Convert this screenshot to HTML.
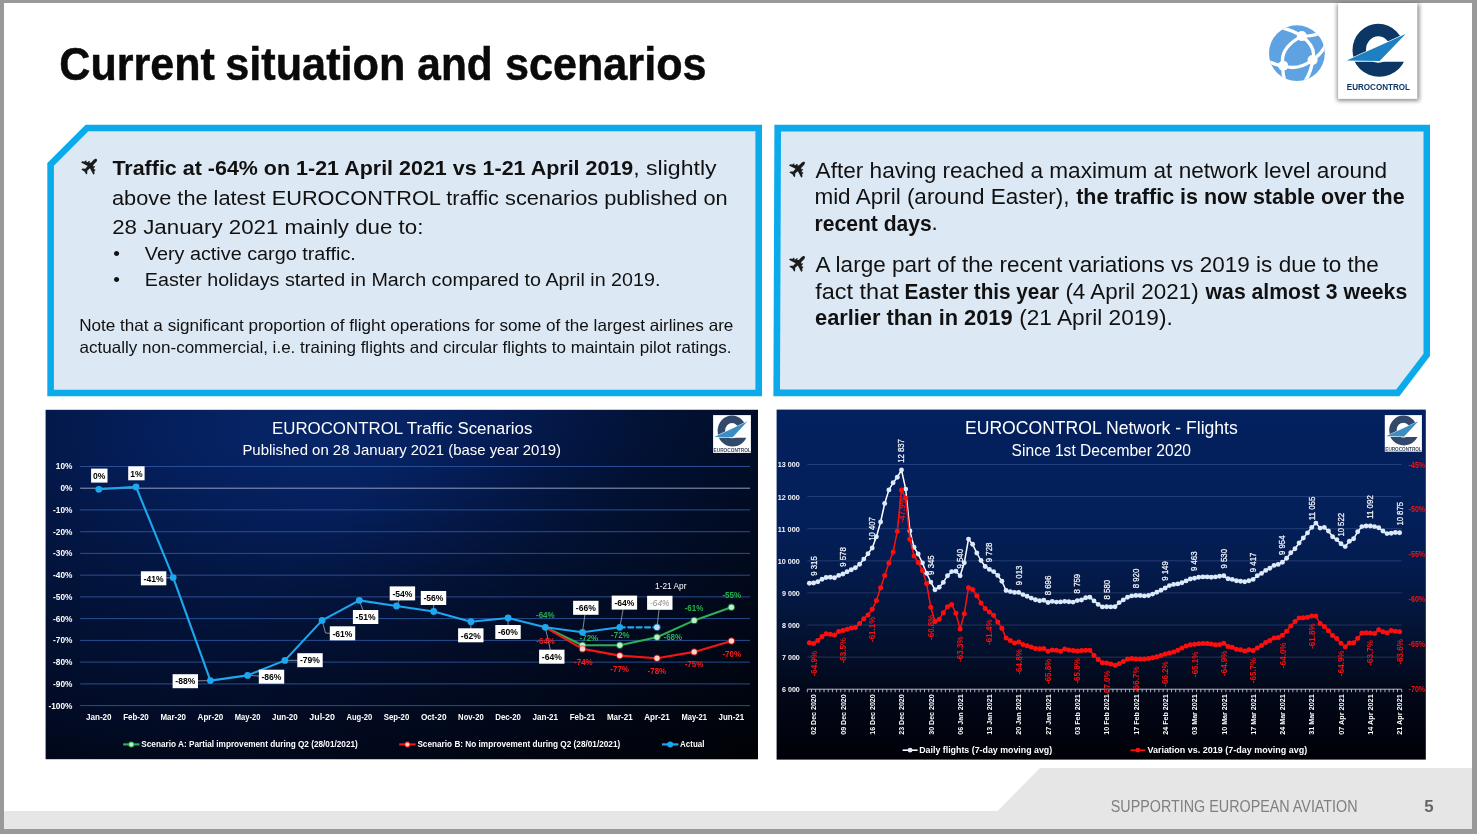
<!DOCTYPE html>
<html lang="en"><head><meta charset="utf-8"><title>Current situation and scenarios</title>
<style>
html,body{margin:0;padding:0;background:#999;}
body{width:1477px;height:834px;overflow:hidden;font-family:"Liberation Sans", sans-serif;}
svg{display:block;font-family:"Liberation Sans", sans-serif;}
text{white-space:pre;}
</style></head><body>
<svg width="1477" height="834" viewBox="0 0 1477 834">
<defs>
<filter id="sh" x="-20%" y="-20%" width="140%" height="140%"><feGaussianBlur stdDeviation="2.2"/></filter>
<filter id="bl" x="-5%" y="-5%" width="110%" height="110%"><feGaussianBlur stdDeviation="0.45"/></filter>
<radialGradient id="g1" gradientUnits="userSpaceOnUse" cx="320" cy="430" r="820" gradientTransform="translate(320 430) scale(1 0.478) translate(-320 -430)"><stop offset="0" stop-color="#072669"/><stop offset="0.2" stop-color="#051f5c"/><stop offset="0.4" stop-color="#031642"/><stop offset="0.6" stop-color="#021032"/><stop offset="0.8" stop-color="#020b24"/><stop offset="1" stop-color="#01040e"/></radialGradient>
<linearGradient id="g1b" gradientUnits="userSpaceOnUse" x1="430" y1="420" x2="758" y2="760"><stop offset="0" stop-color="#000" stop-opacity="0"/><stop offset="1" stop-color="#000" stop-opacity="0.6"/></linearGradient>
<linearGradient id="g2" x1="0" y1="0" x2="0" y2="1"><stop offset="0" stop-color="#03205f"/><stop offset="0.3" stop-color="#03205a"/><stop offset="0.43" stop-color="#031c50"/><stop offset="0.615" stop-color="#031437"/><stop offset="0.71" stop-color="#030e28"/><stop offset="0.80" stop-color="#020819"/><stop offset="0.89" stop-color="#010512"/><stop offset="1" stop-color="#000107"/></linearGradient>
</defs>
<rect width="1477" height="834" fill="#999"/>
<rect x="4" y="3" width="1468" height="826" fill="#fff"/>
<polygon points="4,811 997.5,811 1040,768 1472,768 1472,829 4,829" fill="#e6e6e6"/>
<text x="1110.8" y="812.0" font-size="15.8" fill="#7f7f7f" textLength="246.8" lengthAdjust="spacingAndGlyphs">SUPPORTING EUROPEAN AVIATION</text>
<text x="1424.2" y="812.1" font-size="16.8" font-weight="bold" fill="#666">5</text>
<text x="59.3" y="79.5" font-size="46.8" font-weight="bold" fill="#0a0a0a" textLength="155.5" lengthAdjust="spacingAndGlyphs" stroke="#0a0a0a" stroke-width="0.5">Current</text>
<text x="225.2" y="79.5" font-size="46.8" font-weight="bold" fill="#0a0a0a" textLength="180.2" lengthAdjust="spacingAndGlyphs" stroke="#0a0a0a" stroke-width="0.5">situation</text>
<text x="417.3" y="79.5" font-size="46.8" font-weight="bold" fill="#0a0a0a" textLength="75.4" lengthAdjust="spacingAndGlyphs" stroke="#0a0a0a" stroke-width="0.5">and</text>
<text x="505.0" y="79.5" font-size="46.8" font-weight="bold" fill="#0a0a0a" textLength="201.5" lengthAdjust="spacingAndGlyphs" stroke="#0a0a0a" stroke-width="0.5">scenarios</text>
<g>
<clipPath id="gc"><circle cx="1296.9" cy="53.2" r="27.9"/></clipPath>
<circle cx="1296.9" cy="53.2" r="27.9" fill="#5fa2e1"/>
<g clip-path="url(#gc)" fill="none" stroke="#fff" stroke-width="3.3" stroke-linecap="round">
<path d="M1281.6,27.6 Q1293.3,30.7 1301.8,36.1 Q1310.4,36.6 1321.2,33.0"/>
<path d="M1301.8,36.1 Q1278.7,48.3 1283.2,65.8 Q1282.0,72.6 1285.2,81.5"/>
<path d="M1301.8,36.1 Q1317.1,47.6 1312.6,60.0 Q1311.7,70.8 1305.0,81.5"/>
<path d="M1268.1,61.3 Q1277.1,65.5 1283.2,65.8 Q1297.6,71.0 1312.6,60.0 Q1321.2,54.6 1326.5,43.8"/>
</g>
<circle cx="1301.8" cy="36.1" r="5.0" fill="#fff"/>
<circle cx="1312.6" cy="60.0" r="5.0" fill="#fff"/>
<circle cx="1283.2" cy="65.8" r="5.0" fill="#fff"/>
</g>
<rect x="1337.1" y="4" width="82.2" height="96.9" fill="#000" opacity="0.45" filter="url(#sh)"/>
<rect x="1338.1" y="3" width="79.2" height="95.9" fill="#fff"/>
<g transform="translate(1352.5 23.7) scale(51.6 53.1)">
<clipPath id="ec1a"><polygon points="-0.3,-0.2 1.3,-0.2 1.3,0.0608 -0.3,0.7613"/></clipPath>
<clipPath id="ec1b"><rect x="-0.3" y="0.716" width="1.6" height="0.5"/></clipPath>
<path clip-path="url(#ec1a)" fill="#0c3664" fill-rule="evenodd" d="M0,0.5 A0.5,0.5 0 1 1 1,0.5 A0.5,0.5 0 1 1 0,0.5 Z M0.262,0.487 A0.238,0.25 0 1 0 0.738,0.487 A0.238,0.25 0 1 0 0.262,0.487 Z"/>
<path clip-path="url(#ec1b)" fill="#0c3664" fill-rule="evenodd" d="M-0.01,0.5 A0.53,0.5 0 1 1 1.05,0.5 A0.53,0.5 0 1 1 -0.01,0.5 Z M0.262,0.487 A0.238,0.25 0 1 0 0.738,0.487 A0.238,0.25 0 1 0 0.262,0.487 Z"/>
<polygon fill="#1e80c2" points="-0.112,0.692 1.03,0.192 0.526,0.702"/>
</g>
<text x="1346.8" y="89.8" font-size="8.7" font-weight="bold" fill="#0c3664" textLength="63.2" lengthAdjust="spacingAndGlyphs">EUROCONTROL</text>
<polygon points="85.6,124.7 762,124.7 762,396.2 47.3,396.2 47.3,163" fill="#0babeb"/>
<polygon points="88.3,131.3 755.4,131.3 755.4,389.7 53.9,389.7 53.9,165.7" fill="#dde8f5"/>
<polygon points="774.4,124.7 1430,124.7 1430,356 1399.4,396.2 773.4,396.2" fill="#0babeb"/>
<polygon points="781,131.4 1423.5,131.4 1423.5,353.8 1396.2,389.6 780,389.6" fill="#dde8f5"/>
<g transform="translate(90.5 165.4) rotate(45) scale(1.0)" fill="#1c1c1c">
<path d="M0,-8.8 C1.1,-8.8 1.65,-7.4 1.65,-5.6 L1.65,-2.2 L8.7,2.9 L8.7,4.6 L1.65,2.4 L1.4,6.0 L3.4,7.9 L3.4,9.4 L0,8.5 L-3.4,9.4 L-3.4,7.9 L-1.4,6.0 L-1.65,2.4 L-8.7,4.6 L-8.7,2.9 L-1.65,-2.2 L-1.65,-5.6 C-1.65,-7.4 -1.1,-8.8 0,-8.8 Z"/>
<path d="M3.0,-2.3h1.3v2.4h-1.3z M5.6,-0.4h1.2v2.2h-1.2z M-4.3,-2.3h1.3v2.4h-1.3z M-6.8,-0.4h1.2v2.2h-1.2z"/>
</g>
<g transform="translate(798.4 168.3) rotate(45) scale(1.0)" fill="#1c1c1c">
<path d="M0,-8.8 C1.1,-8.8 1.65,-7.4 1.65,-5.6 L1.65,-2.2 L8.7,2.9 L8.7,4.6 L1.65,2.4 L1.4,6.0 L3.4,7.9 L3.4,9.4 L0,8.5 L-3.4,9.4 L-3.4,7.9 L-1.4,6.0 L-1.65,2.4 L-8.7,4.6 L-8.7,2.9 L-1.65,-2.2 L-1.65,-5.6 C-1.65,-7.4 -1.1,-8.8 0,-8.8 Z"/>
<path d="M3.0,-2.3h1.3v2.4h-1.3z M5.6,-0.4h1.2v2.2h-1.2z M-4.3,-2.3h1.3v2.4h-1.3z M-6.8,-0.4h1.2v2.2h-1.2z"/>
</g>
<g transform="translate(798.4 262.6) rotate(45) scale(1.0)" fill="#1c1c1c">
<path d="M0,-8.8 C1.1,-8.8 1.65,-7.4 1.65,-5.6 L1.65,-2.2 L8.7,2.9 L8.7,4.6 L1.65,2.4 L1.4,6.0 L3.4,7.9 L3.4,9.4 L0,8.5 L-3.4,9.4 L-3.4,7.9 L-1.4,6.0 L-1.65,2.4 L-8.7,4.6 L-8.7,2.9 L-1.65,-2.2 L-1.65,-5.6 C-1.65,-7.4 -1.1,-8.8 0,-8.8 Z"/>
<path d="M3.0,-2.3h1.3v2.4h-1.3z M5.6,-0.4h1.2v2.2h-1.2z M-4.3,-2.3h1.3v2.4h-1.3z M-6.8,-0.4h1.2v2.2h-1.2z"/>
</g>
<text x="112.4" y="174.6" font-size="20.92" font-weight="bold" fill="#111" textLength="520.9" lengthAdjust="spacingAndGlyphs">Traffic at -64% on 1-21 April 2021 vs 1-21 April 2019</text>
<text x="633.2" y="174.6" font-size="20.92" fill="#111" textLength="83.4" lengthAdjust="spacingAndGlyphs">, slightly</text>
<text x="112.0" y="204.8" font-size="20.92" fill="#111" textLength="615.6" lengthAdjust="spacingAndGlyphs">above the latest EUROCONTROL traffic scenarios published on</text>
<text x="112.2" y="233.9" font-size="20.92" fill="#111" textLength="311.2" lengthAdjust="spacingAndGlyphs">28 January 2021 mainly due to:</text>
<text x="113.2" y="259.7" font-size="19" fill="#111">•</text>
<text x="144.8" y="259.7" font-size="19.03" fill="#111" textLength="211.0" lengthAdjust="spacingAndGlyphs">Very active cargo traffic.</text>
<text x="113.2" y="286.1" font-size="19" fill="#111">•</text>
<text x="144.8" y="286.1" font-size="19.03" fill="#111" textLength="515.6" lengthAdjust="spacingAndGlyphs">Easter holidays started in March compared to April in 2019.</text>
<text x="79.2" y="330.8" font-size="16.72" fill="#111" textLength="654.2" lengthAdjust="spacingAndGlyphs">Note that a significant proportion of flight operations for some of the largest airlines are</text>
<text x="79.6" y="352.5" font-size="16.72" fill="#111" textLength="652.0" lengthAdjust="spacingAndGlyphs">actually non-commercial, i.e. training flights and circular flights to maintain pilot ratings.</text>
<text x="815.6" y="177.6" font-size="22.2" fill="#111" textLength="571.6" lengthAdjust="spacingAndGlyphs">After having reached a maximum at network level around</text>
<text x="814.4" y="203.9" font-size="22.2" fill="#111" textLength="255.0" lengthAdjust="spacingAndGlyphs">mid April (around Easter),</text>
<text x="1076.2" y="203.8" font-size="22.2" font-weight="bold" fill="#111" textLength="328.4" lengthAdjust="spacingAndGlyphs">the traffic is now stable over the</text>
<text x="814.6" y="230.6" font-size="22.2" font-weight="bold" fill="#111" textLength="117.2" lengthAdjust="spacingAndGlyphs">recent days</text>
<text x="931.4" y="230.2" font-size="22.5" fill="#111">.</text>
<text x="815.6" y="272.2" font-size="22.2" fill="#111" textLength="563.2" lengthAdjust="spacingAndGlyphs">A large part of the recent variations vs 2019 is due to the</text>
<text x="815.2" y="298.8" font-size="22.2" fill="#111" textLength="83.6" lengthAdjust="spacingAndGlyphs">fact that</text>
<text x="904.6" y="298.7" font-size="22.2" font-weight="bold" fill="#111" textLength="154.4" lengthAdjust="spacingAndGlyphs">Easter this year</text>
<text x="1065.4" y="298.7" font-size="22.2" fill="#111" textLength="133.2" lengthAdjust="spacingAndGlyphs">(4 April 2021)</text>
<text x="1205.6" y="298.7" font-size="22.2" font-weight="bold" fill="#111" textLength="201.6" lengthAdjust="spacingAndGlyphs">was almost 3 weeks</text>
<text x="815.0" y="324.8" font-size="22.2" font-weight="bold" fill="#111" textLength="197.6" lengthAdjust="spacingAndGlyphs">earlier than in 2019</text>
<text x="1019.2" y="324.7" font-size="22.2" fill="#111" textLength="153.6" lengthAdjust="spacingAndGlyphs">(21 April 2019).</text>
<g id="chart1">
<rect x="45.6" y="409.8" width="712.4" height="349.4" fill="url(#g1)"/>
<rect x="45.6" y="409.8" width="712.4" height="349.4" fill="url(#g1b)"/>
<g filter="url(#bl)">
<text x="272.0" y="434.0" font-size="16.86" fill="#fff" textLength="260.4" lengthAdjust="spacingAndGlyphs">EUROCONTROL Traffic Scenarios</text>
<text x="242.4" y="455.4" font-size="14.92" fill="#fff" textLength="318.6" lengthAdjust="spacingAndGlyphs">Published on 28 January 2021 (base year 2019)</text>
<line x1="80.2" x2="750.0" y1="466.5" y2="466.5" stroke="#2c549c" stroke-width="0.9"/>
<text x="72.4" y="469.4" font-size="8.3" font-weight="bold" fill="#fff" text-anchor="end">10%</text>
<line x1="80.2" x2="750.0" y1="488.2" y2="488.2" stroke="#8f9bbd" stroke-width="1.0"/>
<text x="72.4" y="491.1" font-size="8.3" font-weight="bold" fill="#fff" text-anchor="end">0%</text>
<line x1="80.2" x2="750.0" y1="509.9" y2="509.9" stroke="#2c549c" stroke-width="0.9"/>
<text x="72.4" y="512.8" font-size="8.3" font-weight="bold" fill="#fff" text-anchor="end">-10%</text>
<line x1="80.2" x2="750.0" y1="531.7" y2="531.7" stroke="#2c549c" stroke-width="0.9"/>
<text x="72.4" y="534.6" font-size="8.3" font-weight="bold" fill="#fff" text-anchor="end">-20%</text>
<line x1="80.2" x2="750.0" y1="553.4" y2="553.4" stroke="#2c549c" stroke-width="0.9"/>
<text x="72.4" y="556.3" font-size="8.3" font-weight="bold" fill="#fff" text-anchor="end">-30%</text>
<line x1="80.2" x2="750.0" y1="575.2" y2="575.2" stroke="#2c549c" stroke-width="0.9"/>
<text x="72.4" y="578.1" font-size="8.3" font-weight="bold" fill="#fff" text-anchor="end">-40%</text>
<line x1="80.2" x2="750.0" y1="596.9" y2="596.9" stroke="#2c549c" stroke-width="0.9"/>
<text x="72.4" y="599.8" font-size="8.3" font-weight="bold" fill="#fff" text-anchor="end">-50%</text>
<line x1="80.2" x2="750.0" y1="618.6" y2="618.6" stroke="#2c549c" stroke-width="0.9"/>
<text x="72.4" y="621.5" font-size="8.3" font-weight="bold" fill="#fff" text-anchor="end">-60%</text>
<line x1="80.2" x2="750.0" y1="640.4" y2="640.4" stroke="#2c549c" stroke-width="0.9"/>
<text x="72.4" y="643.3" font-size="8.3" font-weight="bold" fill="#fff" text-anchor="end">-70%</text>
<line x1="80.2" x2="750.0" y1="662.1" y2="662.1" stroke="#2c549c" stroke-width="0.9"/>
<text x="72.4" y="665.0" font-size="8.3" font-weight="bold" fill="#fff" text-anchor="end">-80%</text>
<line x1="80.2" x2="750.0" y1="683.9" y2="683.9" stroke="#2c549c" stroke-width="0.9"/>
<text x="72.4" y="686.8" font-size="8.3" font-weight="bold" fill="#fff" text-anchor="end">-90%</text>
<line x1="80.2" x2="750.0" y1="705.6" y2="705.6" stroke="#2c549c" stroke-width="0.9"/>
<text x="72.4" y="708.5" font-size="8.3" font-weight="bold" fill="#fff" text-anchor="end">-100%</text>
<text x="98.8" y="720.4" font-size="8.3" font-weight="bold" fill="#fff" text-anchor="middle" textLength="25.6" lengthAdjust="spacingAndGlyphs">Jan-20</text>
<text x="136.0" y="720.4" font-size="8.3" font-weight="bold" fill="#fff" text-anchor="middle" textLength="25.6" lengthAdjust="spacingAndGlyphs">Feb-20</text>
<text x="173.2" y="720.4" font-size="8.3" font-weight="bold" fill="#fff" text-anchor="middle" textLength="25.6" lengthAdjust="spacingAndGlyphs">Mar-20</text>
<text x="210.4" y="720.4" font-size="8.3" font-weight="bold" fill="#fff" text-anchor="middle" textLength="25.6" lengthAdjust="spacingAndGlyphs">Apr-20</text>
<text x="247.6" y="720.4" font-size="8.3" font-weight="bold" fill="#fff" text-anchor="middle" textLength="25.6" lengthAdjust="spacingAndGlyphs">May-20</text>
<text x="284.9" y="720.4" font-size="8.3" font-weight="bold" fill="#fff" text-anchor="middle" textLength="25.6" lengthAdjust="spacingAndGlyphs">Jun-20</text>
<text x="322.1" y="720.4" font-size="8.3" font-weight="bold" fill="#fff" text-anchor="middle" textLength="25.6" lengthAdjust="spacingAndGlyphs">Jul-20</text>
<text x="359.3" y="720.4" font-size="8.3" font-weight="bold" fill="#fff" text-anchor="middle" textLength="25.6" lengthAdjust="spacingAndGlyphs">Aug-20</text>
<text x="396.5" y="720.4" font-size="8.3" font-weight="bold" fill="#fff" text-anchor="middle" textLength="25.6" lengthAdjust="spacingAndGlyphs">Sep-20</text>
<text x="433.7" y="720.4" font-size="8.3" font-weight="bold" fill="#fff" text-anchor="middle" textLength="25.6" lengthAdjust="spacingAndGlyphs">Oct-20</text>
<text x="470.9" y="720.4" font-size="8.3" font-weight="bold" fill="#fff" text-anchor="middle" textLength="25.6" lengthAdjust="spacingAndGlyphs">Nov-20</text>
<text x="508.1" y="720.4" font-size="8.3" font-weight="bold" fill="#fff" text-anchor="middle" textLength="25.6" lengthAdjust="spacingAndGlyphs">Dec-20</text>
<text x="545.3" y="720.4" font-size="8.3" font-weight="bold" fill="#fff" text-anchor="middle" textLength="25.6" lengthAdjust="spacingAndGlyphs">Jan-21</text>
<text x="582.5" y="720.4" font-size="8.3" font-weight="bold" fill="#fff" text-anchor="middle" textLength="25.6" lengthAdjust="spacingAndGlyphs">Feb-21</text>
<text x="619.8" y="720.4" font-size="8.3" font-weight="bold" fill="#fff" text-anchor="middle" textLength="25.6" lengthAdjust="spacingAndGlyphs">Mar-21</text>
<text x="657.0" y="720.4" font-size="8.3" font-weight="bold" fill="#fff" text-anchor="middle" textLength="25.6" lengthAdjust="spacingAndGlyphs">Apr-21</text>
<text x="694.2" y="720.4" font-size="8.3" font-weight="bold" fill="#fff" text-anchor="middle" textLength="25.6" lengthAdjust="spacingAndGlyphs">May-21</text>
<text x="731.4" y="720.4" font-size="8.3" font-weight="bold" fill="#fff" text-anchor="middle" textLength="25.6" lengthAdjust="spacingAndGlyphs">Jun-21</text>
<line x1="153.6" y1="578.3" x2="173.2" y2="577.6" stroke="#a6a6a6" stroke-width="0.8"/>
<line x1="185.3" y1="681.2" x2="210.4" y2="680.6" stroke="#a6a6a6" stroke-width="0.8"/>
<line x1="271.5" y1="676.7" x2="247.6" y2="675.4" stroke="#a6a6a6" stroke-width="0.8"/>
<line x1="310.0" y1="660.2" x2="284.9" y2="660.4" stroke="#a6a6a6" stroke-width="0.8"/>
<polyline points="322.1,620.4 325.5,633.0 331,633.4" fill="none" stroke="#a6a6a6" stroke-width="0.8"/>
<line x1="365.6" y1="617.0" x2="359.3" y2="600.4" stroke="#a6a6a6" stroke-width="0.8"/>
<line x1="402.4" y1="593.4" x2="396.5" y2="606.0" stroke="#a6a6a6" stroke-width="0.8"/>
<line x1="433.5" y1="598.0" x2="433.7" y2="611.5" stroke="#a6a6a6" stroke-width="0.8"/>
<line x1="470.8" y1="635.3" x2="470.9" y2="621.7" stroke="#a6a6a6" stroke-width="0.8"/>
<line x1="508.0" y1="632.0" x2="508.1" y2="618.0" stroke="#a6a6a6" stroke-width="0.8"/>
<line x1="551.8" y1="656.7" x2="545.3" y2="627.3" stroke="#a6a6a6" stroke-width="0.8"/>
<line x1="585.8" y1="607.8" x2="582.5" y2="632.3" stroke="#a6a6a6" stroke-width="0.8"/>
<line x1="624.4" y1="602.6" x2="619.8" y2="627.3" stroke="#a6a6a6" stroke-width="0.8"/>
<line x1="659.8" y1="602.8" x2="657.0" y2="627.3" stroke="#a6a6a6" stroke-width="0.8"/>
<polyline points="545.3,627.3 582.5,645.2 619.8,645.2 657.0,637.3 694.2,620.4 731.4,607.3" fill="none" stroke="#2fae55" stroke-width="2.1" stroke-linejoin="round" stroke-linecap="round"/>
<polyline points="545.3,627.3 582.5,648.9 619.8,655.6 657.0,658.2 694.2,651.9 731.4,641.0" fill="none" stroke="#f21616" stroke-width="2.1" stroke-linejoin="round" stroke-linecap="round"/>
<polyline points="98.8,489.3 136.0,486.9 173.2,577.6 210.4,680.6 247.6,675.4 284.9,660.4 322.1,620.4 359.3,600.4 396.5,606.0 433.7,611.5 470.9,621.7 508.1,618.0 545.3,627.3 582.5,632.3 619.8,627.3" fill="none" stroke="#1ea7ee" stroke-width="2.1" stroke-linejoin="round" stroke-linecap="round"/>
<polyline points="619.8,627.3 657.0,627.3" fill="none" stroke="#1ea7ee" stroke-width="2.2" stroke-linejoin="round" stroke-linecap="round" stroke-dasharray="5 3.4"/>
<circle cx="582.5" cy="645.2" r="3.7" fill="#2fae55" opacity="0.55"/><circle cx="582.5" cy="645.2" r="2.7" fill="#c3ecc9"/>
<circle cx="619.8" cy="645.2" r="3.7" fill="#2fae55" opacity="0.55"/><circle cx="619.8" cy="645.2" r="2.7" fill="#c3ecc9"/>
<circle cx="657.0" cy="637.3" r="3.7" fill="#2fae55" opacity="0.55"/><circle cx="657.0" cy="637.3" r="2.7" fill="#c3ecc9"/>
<circle cx="694.2" cy="620.4" r="3.7" fill="#2fae55" opacity="0.55"/><circle cx="694.2" cy="620.4" r="2.7" fill="#c3ecc9"/>
<circle cx="731.4" cy="607.3" r="3.7" fill="#2fae55" opacity="0.55"/><circle cx="731.4" cy="607.3" r="2.7" fill="#c3ecc9"/>
<circle cx="582.5" cy="648.9" r="3.7" fill="#f21616" opacity="0.6"/><circle cx="582.5" cy="648.9" r="2.7" fill="#ffd0c8"/>
<circle cx="619.8" cy="655.6" r="3.7" fill="#f21616" opacity="0.6"/><circle cx="619.8" cy="655.6" r="2.7" fill="#ffd0c8"/>
<circle cx="657.0" cy="658.2" r="3.7" fill="#f21616" opacity="0.6"/><circle cx="657.0" cy="658.2" r="2.7" fill="#ffd0c8"/>
<circle cx="694.2" cy="651.9" r="3.7" fill="#f21616" opacity="0.6"/><circle cx="694.2" cy="651.9" r="2.7" fill="#ffd0c8"/>
<circle cx="731.4" cy="641.0" r="3.7" fill="#f21616" opacity="0.6"/><circle cx="731.4" cy="641.0" r="2.7" fill="#ffd0c8"/>
<circle cx="98.8" cy="489.3" r="3.4" fill="#1ea7ee"/>
<circle cx="136.0" cy="486.9" r="3.4" fill="#1ea7ee"/>
<circle cx="173.2" cy="577.6" r="3.4" fill="#1ea7ee"/>
<circle cx="210.4" cy="680.6" r="3.4" fill="#1ea7ee"/>
<circle cx="247.6" cy="675.4" r="3.4" fill="#1ea7ee"/>
<circle cx="284.9" cy="660.4" r="3.4" fill="#1ea7ee"/>
<circle cx="322.1" cy="620.4" r="3.4" fill="#1ea7ee"/>
<circle cx="359.3" cy="600.4" r="3.4" fill="#1ea7ee"/>
<circle cx="396.5" cy="606.0" r="3.4" fill="#1ea7ee"/>
<circle cx="433.7" cy="611.5" r="3.4" fill="#1ea7ee"/>
<circle cx="470.9" cy="621.7" r="3.4" fill="#1ea7ee"/>
<circle cx="508.1" cy="618.0" r="3.4" fill="#1ea7ee"/>
<circle cx="545.3" cy="627.3" r="3.4" fill="#1ea7ee"/>
<circle cx="582.5" cy="632.3" r="3.4" fill="#1ea7ee"/>
<circle cx="619.8" cy="627.3" r="3.4" fill="#1ea7ee"/>
<circle cx="657.0" cy="627.3" r="3.7" fill="#1ea7ee" opacity="0.6"/><circle cx="657.0" cy="627.3" r="2.8" fill="#bfe0f7"/>
<rect x="91.1" y="468.6" width="16.4" height="14.0" fill="#fff"/>
<text x="99.3" y="478.8" font-size="9.3" font-weight="bold" text-anchor="middle" textLength="12.4" lengthAdjust="spacingAndGlyphs">0%</text>
<rect x="128.2" y="466.3" width="16.4" height="14.0" fill="#fff"/>
<text x="136.4" y="476.5" font-size="9.3" font-weight="bold" text-anchor="middle" textLength="12.4" lengthAdjust="spacingAndGlyphs">1%</text>
<rect x="140.9" y="571.3" width="25.4" height="14.0" fill="#fff"/>
<text x="153.6" y="581.5" font-size="9.3" font-weight="bold" text-anchor="middle" textLength="20.0" lengthAdjust="spacingAndGlyphs">-41%</text>
<rect x="172.6" y="674.2" width="25.4" height="14.0" fill="#fff"/>
<text x="185.3" y="684.4" font-size="9.3" font-weight="bold" text-anchor="middle" textLength="20.0" lengthAdjust="spacingAndGlyphs">-88%</text>
<rect x="258.8" y="669.7" width="25.4" height="14.0" fill="#fff"/>
<text x="271.5" y="679.9" font-size="9.3" font-weight="bold" text-anchor="middle" textLength="20.0" lengthAdjust="spacingAndGlyphs">-86%</text>
<rect x="297.3" y="653.2" width="25.4" height="14.0" fill="#fff"/>
<text x="310.0" y="663.4" font-size="9.3" font-weight="bold" text-anchor="middle" textLength="20.0" lengthAdjust="spacingAndGlyphs">-79%</text>
<rect x="329.8" y="626.3" width="25.4" height="14.0" fill="#fff"/>
<text x="342.5" y="636.5" font-size="9.3" font-weight="bold" text-anchor="middle" textLength="20.0" lengthAdjust="spacingAndGlyphs">-61%</text>
<rect x="352.9" y="610.0" width="25.4" height="14.0" fill="#fff"/>
<text x="365.6" y="620.2" font-size="9.3" font-weight="bold" text-anchor="middle" textLength="20.0" lengthAdjust="spacingAndGlyphs">-51%</text>
<rect x="389.7" y="586.4" width="25.4" height="14.0" fill="#fff"/>
<text x="402.4" y="596.6" font-size="9.3" font-weight="bold" text-anchor="middle" textLength="20.0" lengthAdjust="spacingAndGlyphs">-54%</text>
<rect x="420.8" y="591.0" width="25.4" height="14.0" fill="#fff"/>
<text x="433.5" y="601.2" font-size="9.3" font-weight="bold" text-anchor="middle" textLength="20.0" lengthAdjust="spacingAndGlyphs">-56%</text>
<rect x="458.1" y="628.3" width="25.4" height="14.0" fill="#fff"/>
<text x="470.8" y="638.5" font-size="9.3" font-weight="bold" text-anchor="middle" textLength="20.0" lengthAdjust="spacingAndGlyphs">-62%</text>
<rect x="495.3" y="625.0" width="25.4" height="14.0" fill="#fff"/>
<text x="508.0" y="635.2" font-size="9.3" font-weight="bold" text-anchor="middle" textLength="20.0" lengthAdjust="spacingAndGlyphs">-60%</text>
<rect x="539.1" y="649.7" width="25.4" height="14.0" fill="#fff"/>
<text x="551.8" y="659.9" font-size="9.3" font-weight="bold" text-anchor="middle" textLength="20.0" lengthAdjust="spacingAndGlyphs">-64%</text>
<rect x="573.1" y="600.8" width="25.4" height="14.0" fill="#fff"/>
<text x="585.8" y="611.0" font-size="9.3" font-weight="bold" text-anchor="middle" textLength="20.0" lengthAdjust="spacingAndGlyphs">-66%</text>
<rect x="611.7" y="595.6" width="25.4" height="14.0" fill="#fff"/>
<text x="624.4" y="605.8" font-size="9.3" font-weight="bold" text-anchor="middle" textLength="20.0" lengthAdjust="spacingAndGlyphs">-64%</text>
<rect x="647.1" y="595.8" width="25.4" height="14.0" fill="#fff"/>
<text x="659.8" y="606.0" font-size="9.3" fill="#8c8c8c" text-anchor="middle" font-style="italic" textLength="19.4" lengthAdjust="spacingAndGlyphs">-64%</text>
<text x="670.8" y="589.4" font-size="8.4" fill="#fff" text-anchor="middle" textLength="31.4" lengthAdjust="spacingAndGlyphs">1-21 Apr</text>
<text x="545.3" y="617.8" font-size="8.8" font-weight="bold" fill="#27b04f" text-anchor="middle" textLength="18.6" lengthAdjust="spacingAndGlyphs">-64%</text>
<text x="588.9" y="641.2" font-size="8.8" font-weight="bold" fill="#27b04f" text-anchor="middle" textLength="18.6" lengthAdjust="spacingAndGlyphs">-72%</text>
<text x="620.4" y="638.2" font-size="8.8" font-weight="bold" fill="#27b04f" text-anchor="middle" textLength="18.6" lengthAdjust="spacingAndGlyphs">-72%</text>
<text x="672.8" y="639.9" font-size="8.8" font-weight="bold" fill="#27b04f" text-anchor="middle" textLength="18.6" lengthAdjust="spacingAndGlyphs">-68%</text>
<text x="694.0" y="610.5" font-size="8.8" font-weight="bold" fill="#27b04f" text-anchor="middle" textLength="18.6" lengthAdjust="spacingAndGlyphs">-61%</text>
<text x="731.7" y="597.6" font-size="8.8" font-weight="bold" fill="#27b04f" text-anchor="middle" textLength="18.6" lengthAdjust="spacingAndGlyphs">-55%</text>
<text x="545.6" y="643.7" font-size="8.8" font-weight="bold" fill="#ff1a1a" text-anchor="middle" textLength="18.6" lengthAdjust="spacingAndGlyphs">-64%</text>
<text x="583.4" y="665.1" font-size="8.8" font-weight="bold" fill="#ff1a1a" text-anchor="middle" textLength="18.6" lengthAdjust="spacingAndGlyphs">-74%</text>
<text x="619.6" y="671.9" font-size="8.8" font-weight="bold" fill="#ff1a1a" text-anchor="middle" textLength="18.6" lengthAdjust="spacingAndGlyphs">-77%</text>
<text x="656.9" y="673.9" font-size="8.8" font-weight="bold" fill="#ff1a1a" text-anchor="middle" textLength="18.6" lengthAdjust="spacingAndGlyphs">-78%</text>
<text x="694.0" y="667.1" font-size="8.8" font-weight="bold" fill="#ff1a1a" text-anchor="middle" textLength="18.6" lengthAdjust="spacingAndGlyphs">-75%</text>
<text x="731.7" y="656.8" font-size="8.8" font-weight="bold" fill="#ff1a1a" text-anchor="middle" textLength="18.6" lengthAdjust="spacingAndGlyphs">-70%</text>
<line x1="123.1" x2="139.5" y1="744.4" y2="744.4" stroke="#2fae55" stroke-width="2.2"/>
<circle cx="131.3" cy="744.4" r="3.0" fill="#2fae55"/>
<circle cx="131.3" cy="744.4" r="2.0" fill="#c3ecc9"/>
<text x="141.3" y="747.4" font-size="8.6" font-weight="bold" fill="#fff" textLength="216.5" lengthAdjust="spacingAndGlyphs">Scenario A: Partial improvement during Q2 (28/01/2021)</text>
<line x1="399.2" x2="415.6" y1="744.4" y2="744.4" stroke="#f21616" stroke-width="2.2"/>
<circle cx="407.4" cy="744.4" r="3.0" fill="#f21616"/>
<circle cx="407.4" cy="744.4" r="2.0" fill="#ffd0c8"/>
<text x="417.4" y="747.4" font-size="8.6" font-weight="bold" fill="#fff" textLength="202.8" lengthAdjust="spacingAndGlyphs">Scenario B: No improvement during Q2 (28/01/2021)</text>
<line x1="662.0" x2="678.4" y1="744.4" y2="744.4" stroke="#1ea7ee" stroke-width="2.2"/>
<circle cx="670.2" cy="744.4" r="3.0" fill="#1ea7ee"/>
<text x="680.1" y="747.4" font-size="8.6" font-weight="bold" fill="#fff" textLength="24.3" lengthAdjust="spacingAndGlyphs">Actual</text>
</g>
<rect x="713.1" y="415.1" width="37.8" height="37.8" fill="#fff"/>
<g transform="translate(717.6 415.6) scale(28.8 30.8)">
<clipPath id="ec2a"><polygon points="-0.3,-0.2 1.3,-0.2 1.3,0.0608 -0.3,0.7613"/></clipPath>
<clipPath id="ec2b"><rect x="-0.3" y="0.716" width="1.6" height="0.5"/></clipPath>
<path clip-path="url(#ec2a)" fill="#33496b" fill-rule="evenodd" d="M0,0.5 A0.5,0.5 0 1 1 1,0.5 A0.5,0.5 0 1 1 0,0.5 Z M0.262,0.487 A0.238,0.25 0 1 0 0.738,0.487 A0.238,0.25 0 1 0 0.262,0.487 Z"/>
<path clip-path="url(#ec2b)" fill="#33496b" fill-rule="evenodd" d="M-0.01,0.5 A0.53,0.5 0 1 1 1.05,0.5 A0.53,0.5 0 1 1 -0.01,0.5 Z M0.262,0.487 A0.238,0.25 0 1 0 0.738,0.487 A0.238,0.25 0 1 0 0.262,0.487 Z"/>
<polygon fill="#3c8ec2" points="-0.112,0.692 1.03,0.192 0.526,0.702"/>
</g>
<text x="713.6" y="452.0" font-size="4.9" font-weight="bold" fill="#3a4860" textLength="37.2" lengthAdjust="spacingAndGlyphs">EUROCONTROL</text>
</g>
<g id="chart2">
<rect x="776.6" y="409.6" width="649.2" height="350.0" fill="url(#g2)"/>
<g filter="url(#bl)">
<text x="965.0" y="434.0" font-size="17.58" fill="#fff" textLength="272.8" lengthAdjust="spacingAndGlyphs">EUROCONTROL Network - Flights</text>
<text x="1011.6" y="455.8" font-size="15.59" fill="#fff" textLength="179.4" lengthAdjust="spacingAndGlyphs">Since 1st December 2020</text>
<line x1="807.3" x2="1401.7" y1="464.5" y2="464.5" stroke="#8ea2d8" stroke-opacity="0.24" stroke-width="1"/>
<text x="799.8" y="467.4" font-size="8.0" font-weight="bold" fill="#f4f6fb" text-anchor="end" textLength="22.0" lengthAdjust="spacingAndGlyphs">13 000</text>
<line x1="807.3" x2="1401.7" y1="496.6" y2="496.6" stroke="#8ea2d8" stroke-opacity="0.24" stroke-width="1"/>
<text x="799.8" y="499.5" font-size="8.0" font-weight="bold" fill="#f4f6fb" text-anchor="end" textLength="22.0" lengthAdjust="spacingAndGlyphs">12 000</text>
<line x1="807.3" x2="1401.7" y1="528.7" y2="528.7" stroke="#8ea2d8" stroke-opacity="0.24" stroke-width="1"/>
<text x="799.8" y="531.6" font-size="8.0" font-weight="bold" fill="#f4f6fb" text-anchor="end" textLength="22.0" lengthAdjust="spacingAndGlyphs">11 000</text>
<line x1="807.3" x2="1401.7" y1="560.8" y2="560.8" stroke="#8ea2d8" stroke-opacity="0.24" stroke-width="1"/>
<text x="799.8" y="563.7" font-size="8.0" font-weight="bold" fill="#f4f6fb" text-anchor="end" textLength="22.0" lengthAdjust="spacingAndGlyphs">10 000</text>
<line x1="807.3" x2="1401.7" y1="592.9" y2="592.9" stroke="#8ea2d8" stroke-opacity="0.24" stroke-width="1"/>
<text x="799.8" y="595.8" font-size="8.0" font-weight="bold" fill="#f4f6fb" text-anchor="end" textLength="17.8" lengthAdjust="spacingAndGlyphs">9 000</text>
<line x1="807.3" x2="1401.7" y1="625.0" y2="625.0" stroke="#8ea2d8" stroke-opacity="0.24" stroke-width="1"/>
<text x="799.8" y="627.9" font-size="8.0" font-weight="bold" fill="#f4f6fb" text-anchor="end" textLength="17.8" lengthAdjust="spacingAndGlyphs">8 000</text>
<line x1="807.3" x2="1401.7" y1="657.1" y2="657.1" stroke="#8ea2d8" stroke-opacity="0.24" stroke-width="1"/>
<text x="799.8" y="660.0" font-size="8.0" font-weight="bold" fill="#f4f6fb" text-anchor="end" textLength="17.8" lengthAdjust="spacingAndGlyphs">7 000</text>
<text x="799.8" y="692.1" font-size="8.0" font-weight="bold" fill="#f4f6fb" text-anchor="end" textLength="17.8" lengthAdjust="spacingAndGlyphs">6 000</text>
<text x="1408.6" y="467.5" font-size="8.4" font-weight="bold" fill="#f01414" textLength="16.6" lengthAdjust="spacingAndGlyphs">-45%</text>
<text x="1408.6" y="512.4" font-size="8.4" font-weight="bold" fill="#f01414" textLength="16.6" lengthAdjust="spacingAndGlyphs">-50%</text>
<text x="1408.6" y="557.4" font-size="8.4" font-weight="bold" fill="#f01414" textLength="16.6" lengthAdjust="spacingAndGlyphs">-55%</text>
<text x="1408.6" y="602.3" font-size="8.4" font-weight="bold" fill="#f01414" textLength="16.6" lengthAdjust="spacingAndGlyphs">-60%</text>
<text x="1408.6" y="647.3" font-size="8.4" font-weight="bold" fill="#f01414" textLength="16.6" lengthAdjust="spacingAndGlyphs">-65%</text>
<text x="1408.6" y="692.2" font-size="8.4" font-weight="bold" fill="#f01414" textLength="16.6" lengthAdjust="spacingAndGlyphs">-70%</text>
<line x1="807.3" x2="1401.7" y1="689.2" y2="689.2" stroke="#c3c9d6" stroke-width="0.9"/>
<path d="M807.30,689.2V692.2 M811.49,689.2V692.2 M815.67,689.2V692.2 M819.86,689.2V692.2 M824.04,689.2V692.2 M828.23,689.2V692.2 M832.42,689.2V692.2 M836.60,689.2V692.2 M840.79,689.2V692.2 M844.97,689.2V692.2 M849.16,689.2V692.2 M853.35,689.2V692.2 M857.53,689.2V692.2 M861.72,689.2V692.2 M865.90,689.2V692.2 M870.09,689.2V692.2 M874.27,689.2V692.2 M878.46,689.2V692.2 M882.65,689.2V692.2 M886.83,689.2V692.2 M891.02,689.2V692.2 M895.20,689.2V692.2 M899.39,689.2V692.2 M903.58,689.2V692.2 M907.76,689.2V692.2 M911.95,689.2V692.2 M916.13,689.2V692.2 M920.32,689.2V692.2 M924.51,689.2V692.2 M928.69,689.2V692.2 M932.88,689.2V692.2 M937.06,689.2V692.2 M941.25,689.2V692.2 M945.44,689.2V692.2 M949.62,689.2V692.2 M953.81,689.2V692.2 M957.99,689.2V692.2 M962.18,689.2V692.2 M966.36,689.2V692.2 M970.55,689.2V692.2 M974.74,689.2V692.2 M978.92,689.2V692.2 M983.11,689.2V692.2 M987.29,689.2V692.2 M991.48,689.2V692.2 M995.67,689.2V692.2 M999.85,689.2V692.2 M1004.04,689.2V692.2 M1008.22,689.2V692.2 M1012.41,689.2V692.2 M1016.60,689.2V692.2 M1020.78,689.2V692.2 M1024.97,689.2V692.2 M1029.15,689.2V692.2 M1033.34,689.2V692.2 M1037.53,689.2V692.2 M1041.71,689.2V692.2 M1045.90,689.2V692.2 M1050.08,689.2V692.2 M1054.27,689.2V692.2 M1058.45,689.2V692.2 M1062.64,689.2V692.2 M1066.83,689.2V692.2 M1071.01,689.2V692.2 M1075.20,689.2V692.2 M1079.38,689.2V692.2 M1083.57,689.2V692.2 M1087.76,689.2V692.2 M1091.94,689.2V692.2 M1096.13,689.2V692.2 M1100.31,689.2V692.2 M1104.50,689.2V692.2 M1108.69,689.2V692.2 M1112.87,689.2V692.2 M1117.06,689.2V692.2 M1121.24,689.2V692.2 M1125.43,689.2V692.2 M1129.62,689.2V692.2 M1133.80,689.2V692.2 M1137.99,689.2V692.2 M1142.17,689.2V692.2 M1146.36,689.2V692.2 M1150.55,689.2V692.2 M1154.73,689.2V692.2 M1158.92,689.2V692.2 M1163.10,689.2V692.2 M1167.29,689.2V692.2 M1171.47,689.2V692.2 M1175.66,689.2V692.2 M1179.85,689.2V692.2 M1184.03,689.2V692.2 M1188.22,689.2V692.2 M1192.40,689.2V692.2 M1196.59,689.2V692.2 M1200.78,689.2V692.2 M1204.96,689.2V692.2 M1209.15,689.2V692.2 M1213.33,689.2V692.2 M1217.52,689.2V692.2 M1221.71,689.2V692.2 M1225.89,689.2V692.2 M1230.08,689.2V692.2 M1234.26,689.2V692.2 M1238.45,689.2V692.2 M1242.64,689.2V692.2 M1246.82,689.2V692.2 M1251.01,689.2V692.2 M1255.19,689.2V692.2 M1259.38,689.2V692.2 M1263.56,689.2V692.2 M1267.75,689.2V692.2 M1271.94,689.2V692.2 M1276.12,689.2V692.2 M1280.31,689.2V692.2 M1284.49,689.2V692.2 M1288.68,689.2V692.2 M1292.87,689.2V692.2 M1297.05,689.2V692.2 M1301.24,689.2V692.2 M1305.42,689.2V692.2 M1309.61,689.2V692.2 M1313.80,689.2V692.2 M1317.98,689.2V692.2 M1322.17,689.2V692.2 M1326.35,689.2V692.2 M1330.54,689.2V692.2 M1334.73,689.2V692.2 M1338.91,689.2V692.2 M1343.10,689.2V692.2 M1347.28,689.2V692.2 M1351.47,689.2V692.2 M1355.65,689.2V692.2 M1359.84,689.2V692.2 M1364.03,689.2V692.2 M1368.21,689.2V692.2 M1372.40,689.2V692.2 M1376.58,689.2V692.2 M1380.77,689.2V692.2 M1384.96,689.2V692.2 M1389.14,689.2V692.2 M1393.33,689.2V692.2 M1397.51,689.2V692.2 M1401.70,689.2V692.2" stroke="#d5d9e3" stroke-width="0.8" fill="none"/>
<text x="816.4" y="694.3" font-size="8.1" font-weight="bold" fill="#fff" text-anchor="end" transform="rotate(-90 816.4 694.3)" textLength="40.4" lengthAdjust="spacingAndGlyphs">02 Dec 2020</text>
<text x="845.7" y="694.3" font-size="8.1" font-weight="bold" fill="#fff" text-anchor="end" transform="rotate(-90 845.7 694.3)" textLength="40.4" lengthAdjust="spacingAndGlyphs">09 Dec 2020</text>
<text x="875.0" y="694.3" font-size="8.1" font-weight="bold" fill="#fff" text-anchor="end" transform="rotate(-90 875.0 694.3)" textLength="40.4" lengthAdjust="spacingAndGlyphs">16 Dec 2020</text>
<text x="904.3" y="694.3" font-size="8.1" font-weight="bold" fill="#fff" text-anchor="end" transform="rotate(-90 904.3 694.3)" textLength="40.4" lengthAdjust="spacingAndGlyphs">23 Dec 2020</text>
<text x="933.6" y="694.3" font-size="8.1" font-weight="bold" fill="#fff" text-anchor="end" transform="rotate(-90 933.6 694.3)" textLength="40.4" lengthAdjust="spacingAndGlyphs">30 Dec 2020</text>
<text x="962.9" y="694.3" font-size="8.1" font-weight="bold" fill="#fff" text-anchor="end" transform="rotate(-90 962.9 694.3)" textLength="40.4" lengthAdjust="spacingAndGlyphs">06 Jan 2021</text>
<text x="992.2" y="694.3" font-size="8.1" font-weight="bold" fill="#fff" text-anchor="end" transform="rotate(-90 992.2 694.3)" textLength="40.4" lengthAdjust="spacingAndGlyphs">13 Jan 2021</text>
<text x="1021.5" y="694.3" font-size="8.1" font-weight="bold" fill="#fff" text-anchor="end" transform="rotate(-90 1021.5 694.3)" textLength="40.4" lengthAdjust="spacingAndGlyphs">20 Jan 2021</text>
<text x="1050.8" y="694.3" font-size="8.1" font-weight="bold" fill="#fff" text-anchor="end" transform="rotate(-90 1050.8 694.3)" textLength="40.4" lengthAdjust="spacingAndGlyphs">27 Jan 2021</text>
<text x="1080.1" y="694.3" font-size="8.1" font-weight="bold" fill="#fff" text-anchor="end" transform="rotate(-90 1080.1 694.3)" textLength="40.4" lengthAdjust="spacingAndGlyphs">03 Feb 2021</text>
<text x="1109.4" y="694.3" font-size="8.1" font-weight="bold" fill="#fff" text-anchor="end" transform="rotate(-90 1109.4 694.3)" textLength="40.4" lengthAdjust="spacingAndGlyphs">10 Feb 2021</text>
<text x="1138.7" y="694.3" font-size="8.1" font-weight="bold" fill="#fff" text-anchor="end" transform="rotate(-90 1138.7 694.3)" textLength="40.4" lengthAdjust="spacingAndGlyphs">17 Feb 2021</text>
<text x="1168.0" y="694.3" font-size="8.1" font-weight="bold" fill="#fff" text-anchor="end" transform="rotate(-90 1168.0 694.3)" textLength="40.4" lengthAdjust="spacingAndGlyphs">24 Feb 2021</text>
<text x="1197.3" y="694.3" font-size="8.1" font-weight="bold" fill="#fff" text-anchor="end" transform="rotate(-90 1197.3 694.3)" textLength="40.4" lengthAdjust="spacingAndGlyphs">03 Mar 2021</text>
<text x="1226.6" y="694.3" font-size="8.1" font-weight="bold" fill="#fff" text-anchor="end" transform="rotate(-90 1226.6 694.3)" textLength="40.4" lengthAdjust="spacingAndGlyphs">10 Mar 2021</text>
<text x="1255.9" y="694.3" font-size="8.1" font-weight="bold" fill="#fff" text-anchor="end" transform="rotate(-90 1255.9 694.3)" textLength="40.4" lengthAdjust="spacingAndGlyphs">17 Mar 2021</text>
<text x="1285.2" y="694.3" font-size="8.1" font-weight="bold" fill="#fff" text-anchor="end" transform="rotate(-90 1285.2 694.3)" textLength="40.4" lengthAdjust="spacingAndGlyphs">24 Mar 2021</text>
<text x="1314.5" y="694.3" font-size="8.1" font-weight="bold" fill="#fff" text-anchor="end" transform="rotate(-90 1314.5 694.3)" textLength="40.4" lengthAdjust="spacingAndGlyphs">31 Mar 2021</text>
<text x="1343.8" y="694.3" font-size="8.1" font-weight="bold" fill="#fff" text-anchor="end" transform="rotate(-90 1343.8 694.3)" textLength="40.4" lengthAdjust="spacingAndGlyphs">07 Apr 2021</text>
<text x="1373.1" y="694.3" font-size="8.1" font-weight="bold" fill="#fff" text-anchor="end" transform="rotate(-90 1373.1 694.3)" textLength="40.4" lengthAdjust="spacingAndGlyphs">14 Apr 2021</text>
<text x="1402.4" y="694.3" font-size="8.1" font-weight="bold" fill="#fff" text-anchor="end" transform="rotate(-90 1402.4 694.3)" textLength="40.4" lengthAdjust="spacingAndGlyphs">21 Apr 2021</text>
<text x="816.6" y="575.8" font-size="8.6" fill="#f4f6fa" transform="rotate(-90 816.6 575.8)" textLength="19.6" lengthAdjust="spacingAndGlyphs" stroke="#f4f6fa" stroke-width="0.25">9 315</text>
<text x="845.9" y="566.8" font-size="8.6" fill="#f4f6fa" transform="rotate(-90 845.9 566.8)" textLength="19.6" lengthAdjust="spacingAndGlyphs" stroke="#f4f6fa" stroke-width="0.25">9 578</text>
<text x="875.2" y="540.8" font-size="8.6" fill="#f4f6fa" transform="rotate(-90 875.2 540.8)" textLength="23.6" lengthAdjust="spacingAndGlyphs" stroke="#f4f6fa" stroke-width="0.25">10 407</text>
<text x="904.5" y="462.8" font-size="8.6" fill="#f4f6fa" transform="rotate(-90 904.5 462.8)" textLength="23.6" lengthAdjust="spacingAndGlyphs" stroke="#f4f6fa" stroke-width="0.25">12 837</text>
<text x="933.8" y="574.9" font-size="8.6" fill="#f4f6fa" transform="rotate(-90 933.8 574.9)" textLength="19.6" lengthAdjust="spacingAndGlyphs" stroke="#f4f6fa" stroke-width="0.25">9 345</text>
<text x="963.1" y="568.6" font-size="8.6" fill="#f4f6fa" transform="rotate(-90 963.1 568.6)" textLength="19.6" lengthAdjust="spacingAndGlyphs" stroke="#f4f6fa" stroke-width="0.25">9 540</text>
<text x="992.4" y="562.2" font-size="8.6" fill="#f4f6fa" transform="rotate(-90 992.4 562.2)" textLength="19.6" lengthAdjust="spacingAndGlyphs" stroke="#f4f6fa" stroke-width="0.25">9 728</text>
<text x="1021.7" y="585.2" font-size="8.6" fill="#f4f6fa" transform="rotate(-90 1021.7 585.2)" textLength="19.6" lengthAdjust="spacingAndGlyphs" stroke="#f4f6fa" stroke-width="0.25">9 013</text>
<text x="1051.0" y="595.3" font-size="8.6" fill="#f4f6fa" transform="rotate(-90 1051.0 595.3)" textLength="19.6" lengthAdjust="spacingAndGlyphs" stroke="#f4f6fa" stroke-width="0.25">8 696</text>
<text x="1080.3" y="593.4" font-size="8.6" fill="#f4f6fa" transform="rotate(-90 1080.3 593.4)" textLength="19.6" lengthAdjust="spacingAndGlyphs" stroke="#f4f6fa" stroke-width="0.25">8 759</text>
<text x="1109.6" y="599.5" font-size="8.6" fill="#f4f6fa" transform="rotate(-90 1109.6 599.5)" textLength="19.6" lengthAdjust="spacingAndGlyphs" stroke="#f4f6fa" stroke-width="0.25">8 580</text>
<text x="1138.9" y="588.3" font-size="8.6" fill="#f4f6fa" transform="rotate(-90 1138.9 588.3)" textLength="19.6" lengthAdjust="spacingAndGlyphs" stroke="#f4f6fa" stroke-width="0.25">8 920</text>
<text x="1168.2" y="580.8" font-size="8.6" fill="#f4f6fa" transform="rotate(-90 1168.2 580.8)" textLength="19.6" lengthAdjust="spacingAndGlyphs" stroke="#f4f6fa" stroke-width="0.25">9 149</text>
<text x="1197.5" y="571.1" font-size="8.6" fill="#f4f6fa" transform="rotate(-90 1197.5 571.1)" textLength="19.6" lengthAdjust="spacingAndGlyphs" stroke="#f4f6fa" stroke-width="0.25">9 463</text>
<text x="1226.8" y="568.6" font-size="8.6" fill="#f4f6fa" transform="rotate(-90 1226.8 568.6)" textLength="19.6" lengthAdjust="spacingAndGlyphs" stroke="#f4f6fa" stroke-width="0.25">9 530</text>
<text x="1256.1" y="572.2" font-size="8.6" fill="#f4f6fa" transform="rotate(-90 1256.1 572.2)" textLength="19.6" lengthAdjust="spacingAndGlyphs" stroke="#f4f6fa" stroke-width="0.25">9 417</text>
<text x="1285.4" y="555.1" font-size="8.6" fill="#f4f6fa" transform="rotate(-90 1285.4 555.1)" textLength="19.6" lengthAdjust="spacingAndGlyphs" stroke="#f4f6fa" stroke-width="0.25">9 954</text>
<text x="1314.7" y="520.2" font-size="8.6" fill="#f4f6fa" transform="rotate(-90 1314.7 520.2)" textLength="23.6" lengthAdjust="spacingAndGlyphs" stroke="#f4f6fa" stroke-width="0.25">11 055</text>
<text x="1344.0" y="536.6" font-size="8.6" fill="#f4f6fa" transform="rotate(-90 1344.0 536.6)" textLength="23.6" lengthAdjust="spacingAndGlyphs" stroke="#f4f6fa" stroke-width="0.25">10 522</text>
<text x="1373.3" y="518.8" font-size="8.6" fill="#f4f6fa" transform="rotate(-90 1373.3 518.8)" textLength="23.6" lengthAdjust="spacingAndGlyphs" stroke="#f4f6fa" stroke-width="0.25">11 092</text>
<text x="1402.6" y="525.6" font-size="8.6" fill="#f4f6fa" transform="rotate(-90 1402.6 525.6)" textLength="23.6" lengthAdjust="spacingAndGlyphs" stroke="#f4f6fa" stroke-width="0.25">10 875</text>
<text x="816.7" y="650.9" font-size="8.6" font-weight="bold" fill="#ee1212" text-anchor="end" transform="rotate(-90 816.7 650.9)" textLength="25.4" lengthAdjust="spacingAndGlyphs">-64.9%</text>
<text x="846.0" y="637.9" font-size="8.6" font-weight="bold" fill="#ee1212" text-anchor="end" transform="rotate(-90 846.0 637.9)" textLength="25.4" lengthAdjust="spacingAndGlyphs">-63.5%</text>
<text x="875.3" y="616.6" font-size="8.6" font-weight="bold" fill="#ee1212" text-anchor="end" transform="rotate(-90 875.3 616.6)" textLength="25.4" lengthAdjust="spacingAndGlyphs">-61.1%</text>
<text x="904.6" y="497.2" font-size="8.6" font-weight="bold" fill="#ee1212" text-anchor="end" transform="rotate(-90 904.6 497.2)" textLength="25.4" lengthAdjust="spacingAndGlyphs">-47.9%</text>
<text x="933.9" y="614.6" font-size="8.6" font-weight="bold" fill="#ee1212" text-anchor="end" transform="rotate(-90 933.9 614.6)" textLength="25.4" lengthAdjust="spacingAndGlyphs">-60.8%</text>
<text x="963.2" y="636.4" font-size="8.6" font-weight="bold" fill="#ee1212" text-anchor="end" transform="rotate(-90 963.2 636.4)" textLength="25.4" lengthAdjust="spacingAndGlyphs">-63.3%</text>
<text x="992.5" y="619.4" font-size="8.6" font-weight="bold" fill="#ee1212" text-anchor="end" transform="rotate(-90 992.5 619.4)" textLength="25.4" lengthAdjust="spacingAndGlyphs">-61.4%</text>
<text x="1021.8" y="649.2" font-size="8.6" font-weight="bold" fill="#ee1212" text-anchor="end" transform="rotate(-90 1021.8 649.2)" textLength="25.4" lengthAdjust="spacingAndGlyphs">-64.8%</text>
<text x="1051.1" y="658.6" font-size="8.6" font-weight="bold" fill="#ee1212" text-anchor="end" transform="rotate(-90 1051.1 658.6)" textLength="25.4" lengthAdjust="spacingAndGlyphs">-65.8%</text>
<text x="1080.4" y="658.2" font-size="8.6" font-weight="bold" fill="#ee1212" text-anchor="end" transform="rotate(-90 1080.4 658.2)" textLength="25.4" lengthAdjust="spacingAndGlyphs">-65.8%</text>
<text x="1109.7" y="670.3" font-size="8.6" font-weight="bold" fill="#ee1212" text-anchor="end" transform="rotate(-90 1109.7 670.3)" textLength="25.4" lengthAdjust="spacingAndGlyphs">-67.0%</text>
<text x="1139.0" y="666.4" font-size="8.6" font-weight="bold" fill="#ee1212" text-anchor="end" transform="rotate(-90 1139.0 666.4)" textLength="25.4" lengthAdjust="spacingAndGlyphs">-66.7%</text>
<text x="1168.3" y="661.3" font-size="8.6" font-weight="bold" fill="#ee1212" text-anchor="end" transform="rotate(-90 1168.3 661.3)" textLength="25.4" lengthAdjust="spacingAndGlyphs">-66.2%</text>
<text x="1197.6" y="651.6" font-size="8.6" font-weight="bold" fill="#ee1212" text-anchor="end" transform="rotate(-90 1197.6 651.6)" textLength="25.4" lengthAdjust="spacingAndGlyphs">-65.1%</text>
<text x="1226.9" y="650.6" font-size="8.6" font-weight="bold" fill="#ee1212" text-anchor="end" transform="rotate(-90 1226.9 650.6)" textLength="25.4" lengthAdjust="spacingAndGlyphs">-64.9%</text>
<text x="1256.2" y="657.8" font-size="8.6" font-weight="bold" fill="#ee1212" text-anchor="end" transform="rotate(-90 1256.2 657.8)" textLength="25.4" lengthAdjust="spacingAndGlyphs">-65.7%</text>
<text x="1285.5" y="642.5" font-size="8.6" font-weight="bold" fill="#ee1212" text-anchor="end" transform="rotate(-90 1285.5 642.5)" textLength="25.4" lengthAdjust="spacingAndGlyphs">-64.0%</text>
<text x="1314.8" y="623.4" font-size="8.6" font-weight="bold" fill="#ee1212" text-anchor="end" transform="rotate(-90 1314.8 623.4)" textLength="25.4" lengthAdjust="spacingAndGlyphs">-61.8%</text>
<text x="1344.1" y="650.5" font-size="8.6" font-weight="bold" fill="#ee1212" text-anchor="end" transform="rotate(-90 1344.1 650.5)" textLength="25.4" lengthAdjust="spacingAndGlyphs">-64.9%</text>
<text x="1373.4" y="640.2" font-size="8.6" font-weight="bold" fill="#ee1212" text-anchor="end" transform="rotate(-90 1373.4 640.2)" textLength="25.4" lengthAdjust="spacingAndGlyphs">-63.7%</text>
<text x="1402.7" y="639.1" font-size="8.6" font-weight="bold" fill="#ee1212" text-anchor="end" transform="rotate(-90 1402.7 639.1)" textLength="25.4" lengthAdjust="spacingAndGlyphs">-63.6%</text>
<polyline points="809.4,583.2 813.6,583.0 817.8,581.7 822.0,579.2 826.1,577.5 830.3,577.3 834.5,577.8 838.7,575.4 842.9,574.0 847.1,571.8 851.3,569.7 855.4,567.8 859.6,564.2 863.8,559.1 868.0,553.7 872.2,548.0 876.4,536.8 880.6,522.0 884.7,503.5 888.9,489.9 893.1,482.8 897.3,477.2 901.5,470.0 905.7,489.1 909.9,530.9 914.0,547.2 918.2,554.0 922.4,562.9 926.6,573.2 930.8,582.1 935.0,589.7 939.2,587.3 943.3,582.4 947.5,575.7 951.7,571.6 955.9,571.2 960.1,575.8 964.3,562.7 968.5,539.1 972.6,544.3 976.8,553.0 981.0,560.5 985.2,566.5 989.4,569.4 993.6,571.6 997.8,575.4 1001.9,581.3 1006.1,590.5 1010.3,591.6 1014.5,592.4 1018.7,592.4 1022.9,594.6 1027.1,596.3 1031.2,598.1 1035.4,599.8 1039.6,600.8 1043.8,600.3 1048.0,602.5 1052.2,601.4 1056.4,602.1 1060.5,601.9 1064.7,601.4 1068.9,601.7 1073.1,602.1 1077.3,600.6 1081.5,600.0 1085.7,597.8 1089.8,597.3 1094.0,600.9 1098.2,604.4 1102.4,606.9 1106.6,606.7 1110.8,606.9 1115.0,606.7 1119.2,602.6 1123.3,599.9 1127.5,597.2 1131.7,595.9 1135.9,595.5 1140.1,595.5 1144.3,595.9 1148.5,595.5 1152.6,594.1 1156.8,592.3 1161.0,590.2 1165.2,588.0 1169.4,585.6 1173.6,584.4 1177.8,583.9 1181.9,582.8 1186.1,580.9 1190.3,579.0 1194.5,578.3 1198.7,577.2 1202.9,576.9 1207.1,576.9 1211.2,577.2 1215.4,576.9 1219.6,576.3 1223.8,575.8 1228.0,578.8 1232.2,579.4 1236.4,580.7 1240.5,581.2 1244.7,581.8 1248.9,580.7 1253.1,579.4 1257.3,575.8 1261.5,573.4 1265.7,570.4 1269.8,568.2 1274.0,565.4 1278.2,564.4 1282.4,562.3 1286.6,558.2 1290.8,552.8 1295.0,548.8 1299.1,543.0 1303.3,538.0 1307.5,532.9 1311.7,527.4 1315.9,523.1 1320.1,528.1 1324.3,527.4 1328.4,531.0 1332.6,536.8 1336.8,539.6 1341.0,543.8 1345.2,546.6 1349.4,541.2 1353.6,538.8 1357.7,531.7 1361.9,526.6 1366.1,526.0 1370.3,526.0 1374.5,526.6 1378.7,527.7 1382.9,531.0 1387.0,533.6 1391.2,533.3 1395.4,532.5 1399.6,532.8" fill="none" stroke="#ffffff" stroke-width="1.5" stroke-linejoin="round"/>
<g fill="#dcebfb"><circle cx="809.4" cy="583.2" r="2.45"/><circle cx="813.6" cy="583.0" r="2.45"/><circle cx="817.8" cy="581.7" r="2.45"/><circle cx="822.0" cy="579.2" r="2.45"/><circle cx="826.1" cy="577.5" r="2.45"/><circle cx="830.3" cy="577.3" r="2.45"/><circle cx="834.5" cy="577.8" r="2.45"/><circle cx="838.7" cy="575.4" r="2.45"/><circle cx="842.9" cy="574.0" r="2.45"/><circle cx="847.1" cy="571.8" r="2.45"/><circle cx="851.3" cy="569.7" r="2.45"/><circle cx="855.4" cy="567.8" r="2.45"/><circle cx="859.6" cy="564.2" r="2.45"/><circle cx="863.8" cy="559.1" r="2.45"/><circle cx="868.0" cy="553.7" r="2.45"/><circle cx="872.2" cy="548.0" r="2.45"/><circle cx="876.4" cy="536.8" r="2.45"/><circle cx="880.6" cy="522.0" r="2.45"/><circle cx="884.7" cy="503.5" r="2.45"/><circle cx="888.9" cy="489.9" r="2.45"/><circle cx="893.1" cy="482.8" r="2.45"/><circle cx="897.3" cy="477.2" r="2.45"/><circle cx="901.5" cy="470.0" r="2.45"/><circle cx="905.7" cy="489.1" r="2.45"/><circle cx="909.9" cy="530.9" r="2.45"/><circle cx="914.0" cy="547.2" r="2.45"/><circle cx="918.2" cy="554.0" r="2.45"/><circle cx="922.4" cy="562.9" r="2.45"/><circle cx="926.6" cy="573.2" r="2.45"/><circle cx="930.8" cy="582.1" r="2.45"/><circle cx="935.0" cy="589.7" r="2.45"/><circle cx="939.2" cy="587.3" r="2.45"/><circle cx="943.3" cy="582.4" r="2.45"/><circle cx="947.5" cy="575.7" r="2.45"/><circle cx="951.7" cy="571.6" r="2.45"/><circle cx="955.9" cy="571.2" r="2.45"/><circle cx="960.1" cy="575.8" r="2.45"/><circle cx="964.3" cy="562.7" r="2.45"/><circle cx="968.5" cy="539.1" r="2.45"/><circle cx="972.6" cy="544.3" r="2.45"/><circle cx="976.8" cy="553.0" r="2.45"/><circle cx="981.0" cy="560.5" r="2.45"/><circle cx="985.2" cy="566.5" r="2.45"/><circle cx="989.4" cy="569.4" r="2.45"/><circle cx="993.6" cy="571.6" r="2.45"/><circle cx="997.8" cy="575.4" r="2.45"/><circle cx="1001.9" cy="581.3" r="2.45"/><circle cx="1006.1" cy="590.5" r="2.45"/><circle cx="1010.3" cy="591.6" r="2.45"/><circle cx="1014.5" cy="592.4" r="2.45"/><circle cx="1018.7" cy="592.4" r="2.45"/><circle cx="1022.9" cy="594.6" r="2.45"/><circle cx="1027.1" cy="596.3" r="2.45"/><circle cx="1031.2" cy="598.1" r="2.45"/><circle cx="1035.4" cy="599.8" r="2.45"/><circle cx="1039.6" cy="600.8" r="2.45"/><circle cx="1043.8" cy="600.3" r="2.45"/><circle cx="1048.0" cy="602.5" r="2.45"/><circle cx="1052.2" cy="601.4" r="2.45"/><circle cx="1056.4" cy="602.1" r="2.45"/><circle cx="1060.5" cy="601.9" r="2.45"/><circle cx="1064.7" cy="601.4" r="2.45"/><circle cx="1068.9" cy="601.7" r="2.45"/><circle cx="1073.1" cy="602.1" r="2.45"/><circle cx="1077.3" cy="600.6" r="2.45"/><circle cx="1081.5" cy="600.0" r="2.45"/><circle cx="1085.7" cy="597.8" r="2.45"/><circle cx="1089.8" cy="597.3" r="2.45"/><circle cx="1094.0" cy="600.9" r="2.45"/><circle cx="1098.2" cy="604.4" r="2.45"/><circle cx="1102.4" cy="606.9" r="2.45"/><circle cx="1106.6" cy="606.7" r="2.45"/><circle cx="1110.8" cy="606.9" r="2.45"/><circle cx="1115.0" cy="606.7" r="2.45"/><circle cx="1119.2" cy="602.6" r="2.45"/><circle cx="1123.3" cy="599.9" r="2.45"/><circle cx="1127.5" cy="597.2" r="2.45"/><circle cx="1131.7" cy="595.9" r="2.45"/><circle cx="1135.9" cy="595.5" r="2.45"/><circle cx="1140.1" cy="595.5" r="2.45"/><circle cx="1144.3" cy="595.9" r="2.45"/><circle cx="1148.5" cy="595.5" r="2.45"/><circle cx="1152.6" cy="594.1" r="2.45"/><circle cx="1156.8" cy="592.3" r="2.45"/><circle cx="1161.0" cy="590.2" r="2.45"/><circle cx="1165.2" cy="588.0" r="2.45"/><circle cx="1169.4" cy="585.6" r="2.45"/><circle cx="1173.6" cy="584.4" r="2.45"/><circle cx="1177.8" cy="583.9" r="2.45"/><circle cx="1181.9" cy="582.8" r="2.45"/><circle cx="1186.1" cy="580.9" r="2.45"/><circle cx="1190.3" cy="579.0" r="2.45"/><circle cx="1194.5" cy="578.3" r="2.45"/><circle cx="1198.7" cy="577.2" r="2.45"/><circle cx="1202.9" cy="576.9" r="2.45"/><circle cx="1207.1" cy="576.9" r="2.45"/><circle cx="1211.2" cy="577.2" r="2.45"/><circle cx="1215.4" cy="576.9" r="2.45"/><circle cx="1219.6" cy="576.3" r="2.45"/><circle cx="1223.8" cy="575.8" r="2.45"/><circle cx="1228.0" cy="578.8" r="2.45"/><circle cx="1232.2" cy="579.4" r="2.45"/><circle cx="1236.4" cy="580.7" r="2.45"/><circle cx="1240.5" cy="581.2" r="2.45"/><circle cx="1244.7" cy="581.8" r="2.45"/><circle cx="1248.9" cy="580.7" r="2.45"/><circle cx="1253.1" cy="579.4" r="2.45"/><circle cx="1257.3" cy="575.8" r="2.45"/><circle cx="1261.5" cy="573.4" r="2.45"/><circle cx="1265.7" cy="570.4" r="2.45"/><circle cx="1269.8" cy="568.2" r="2.45"/><circle cx="1274.0" cy="565.4" r="2.45"/><circle cx="1278.2" cy="564.4" r="2.45"/><circle cx="1282.4" cy="562.3" r="2.45"/><circle cx="1286.6" cy="558.2" r="2.45"/><circle cx="1290.8" cy="552.8" r="2.45"/><circle cx="1295.0" cy="548.8" r="2.45"/><circle cx="1299.1" cy="543.0" r="2.45"/><circle cx="1303.3" cy="538.0" r="2.45"/><circle cx="1307.5" cy="532.9" r="2.45"/><circle cx="1311.7" cy="527.4" r="2.45"/><circle cx="1315.9" cy="523.1" r="2.45"/><circle cx="1320.1" cy="528.1" r="2.45"/><circle cx="1324.3" cy="527.4" r="2.45"/><circle cx="1328.4" cy="531.0" r="2.45"/><circle cx="1332.6" cy="536.8" r="2.45"/><circle cx="1336.8" cy="539.6" r="2.45"/><circle cx="1341.0" cy="543.8" r="2.45"/><circle cx="1345.2" cy="546.6" r="2.45"/><circle cx="1349.4" cy="541.2" r="2.45"/><circle cx="1353.6" cy="538.8" r="2.45"/><circle cx="1357.7" cy="531.7" r="2.45"/><circle cx="1361.9" cy="526.6" r="2.45"/><circle cx="1366.1" cy="526.0" r="2.45"/><circle cx="1370.3" cy="526.0" r="2.45"/><circle cx="1374.5" cy="526.6" r="2.45"/><circle cx="1378.7" cy="527.7" r="2.45"/><circle cx="1382.9" cy="531.0" r="2.45"/><circle cx="1387.0" cy="533.6" r="2.45"/><circle cx="1391.2" cy="533.3" r="2.45"/><circle cx="1395.4" cy="532.5" r="2.45"/><circle cx="1399.6" cy="532.8" r="2.45"/></g>
<polyline points="809.4,642.8 813.6,643.6 817.8,640.4 822.0,636.6 826.1,633.7 830.3,634.2 834.5,635.0 838.7,631.5 842.9,630.6 847.1,629.3 851.3,627.9 855.4,627.4 859.6,623.6 863.8,618.7 868.0,615.0 872.2,609.3 876.4,600.6 880.6,587.8 884.7,575.4 888.9,562.9 893.1,552.1 897.3,531.2 901.5,489.9 905.7,498.3 909.9,539.3 914.0,555.9 918.2,562.4 922.4,570.5 926.6,583.5 930.8,607.3 935.0,621.4 939.2,619.3 943.3,612.7 947.5,606.8 951.7,604.6 955.9,613.2 960.1,629.1 964.3,613.7 968.5,587.7 972.6,589.6 976.8,595.8 981.0,602.9 985.2,608.6 989.4,612.1 993.6,615.3 997.8,622.1 1001.9,628.3 1006.1,638.1 1010.3,640.6 1014.5,643.0 1018.7,641.9 1022.9,644.6 1027.1,645.7 1031.2,647.0 1035.4,648.4 1039.6,648.7 1043.8,648.4 1048.0,651.3 1052.2,650.0 1056.4,650.2 1060.5,651.3 1064.7,648.9 1068.9,650.0 1073.1,650.5 1077.3,650.9 1081.5,650.5 1085.7,650.2 1089.8,650.2 1094.0,655.5 1098.2,659.5 1102.4,662.7 1106.6,663.0 1110.8,664.1 1115.0,665.2 1119.2,663.8 1123.3,661.6 1127.5,659.1 1131.7,658.4 1135.9,659.1 1140.1,659.1 1144.3,658.9 1148.5,658.4 1152.6,657.8 1156.8,656.8 1161.0,655.5 1165.2,654.0 1169.4,653.0 1173.6,651.9 1177.8,650.3 1181.9,648.1 1186.1,646.1 1190.3,644.8 1194.5,644.3 1198.7,643.8 1202.9,643.5 1207.1,643.6 1211.2,644.1 1215.4,644.7 1219.6,644.4 1223.8,643.3 1228.0,646.5 1232.2,647.2 1236.4,649.2 1240.5,649.8 1244.7,651.0 1248.9,649.7 1253.1,650.5 1257.3,647.9 1261.5,645.4 1265.7,642.5 1269.8,640.5 1274.0,638.0 1278.2,637.6 1282.4,635.2 1286.6,631.3 1290.8,625.9 1295.0,621.5 1299.1,618.1 1303.3,617.8 1307.5,617.2 1311.7,616.1 1315.9,616.1 1320.1,623.4 1324.3,626.6 1328.4,630.8 1332.6,635.6 1336.8,638.6 1341.0,643.2 1345.2,646.8 1349.4,642.9 1353.6,642.7 1357.7,638.3 1361.9,633.1 1366.1,632.7 1370.3,632.9 1374.5,633.5 1378.7,629.7 1382.9,631.8 1387.0,632.7 1391.2,630.5 1395.4,631.3 1399.6,631.8" fill="none" stroke="#ff1010" stroke-width="1.5" stroke-linejoin="round"/>
<g fill="#ff1010"><circle cx="809.4" cy="642.8" r="2.5"/><circle cx="813.6" cy="643.6" r="2.5"/><circle cx="817.8" cy="640.4" r="2.5"/><circle cx="822.0" cy="636.6" r="2.5"/><circle cx="826.1" cy="633.7" r="2.5"/><circle cx="830.3" cy="634.2" r="2.5"/><circle cx="834.5" cy="635.0" r="2.5"/><circle cx="838.7" cy="631.5" r="2.5"/><circle cx="842.9" cy="630.6" r="2.5"/><circle cx="847.1" cy="629.3" r="2.5"/><circle cx="851.3" cy="627.9" r="2.5"/><circle cx="855.4" cy="627.4" r="2.5"/><circle cx="859.6" cy="623.6" r="2.5"/><circle cx="863.8" cy="618.7" r="2.5"/><circle cx="868.0" cy="615.0" r="2.5"/><circle cx="872.2" cy="609.3" r="2.5"/><circle cx="876.4" cy="600.6" r="2.5"/><circle cx="880.6" cy="587.8" r="2.5"/><circle cx="884.7" cy="575.4" r="2.5"/><circle cx="888.9" cy="562.9" r="2.5"/><circle cx="893.1" cy="552.1" r="2.5"/><circle cx="897.3" cy="531.2" r="2.5"/><circle cx="901.5" cy="489.9" r="2.5"/><circle cx="905.7" cy="498.3" r="2.5"/><circle cx="909.9" cy="539.3" r="2.5"/><circle cx="914.0" cy="555.9" r="2.5"/><circle cx="918.2" cy="562.4" r="2.5"/><circle cx="922.4" cy="570.5" r="2.5"/><circle cx="926.6" cy="583.5" r="2.5"/><circle cx="930.8" cy="607.3" r="2.5"/><circle cx="935.0" cy="621.4" r="2.5"/><circle cx="939.2" cy="619.3" r="2.5"/><circle cx="943.3" cy="612.7" r="2.5"/><circle cx="947.5" cy="606.8" r="2.5"/><circle cx="951.7" cy="604.6" r="2.5"/><circle cx="955.9" cy="613.2" r="2.5"/><circle cx="960.1" cy="629.1" r="2.5"/><circle cx="964.3" cy="613.7" r="2.5"/><circle cx="968.5" cy="587.7" r="2.5"/><circle cx="972.6" cy="589.6" r="2.5"/><circle cx="976.8" cy="595.8" r="2.5"/><circle cx="981.0" cy="602.9" r="2.5"/><circle cx="985.2" cy="608.6" r="2.5"/><circle cx="989.4" cy="612.1" r="2.5"/><circle cx="993.6" cy="615.3" r="2.5"/><circle cx="997.8" cy="622.1" r="2.5"/><circle cx="1001.9" cy="628.3" r="2.5"/><circle cx="1006.1" cy="638.1" r="2.5"/><circle cx="1010.3" cy="640.6" r="2.5"/><circle cx="1014.5" cy="643.0" r="2.5"/><circle cx="1018.7" cy="641.9" r="2.5"/><circle cx="1022.9" cy="644.6" r="2.5"/><circle cx="1027.1" cy="645.7" r="2.5"/><circle cx="1031.2" cy="647.0" r="2.5"/><circle cx="1035.4" cy="648.4" r="2.5"/><circle cx="1039.6" cy="648.7" r="2.5"/><circle cx="1043.8" cy="648.4" r="2.5"/><circle cx="1048.0" cy="651.3" r="2.5"/><circle cx="1052.2" cy="650.0" r="2.5"/><circle cx="1056.4" cy="650.2" r="2.5"/><circle cx="1060.5" cy="651.3" r="2.5"/><circle cx="1064.7" cy="648.9" r="2.5"/><circle cx="1068.9" cy="650.0" r="2.5"/><circle cx="1073.1" cy="650.5" r="2.5"/><circle cx="1077.3" cy="650.9" r="2.5"/><circle cx="1081.5" cy="650.5" r="2.5"/><circle cx="1085.7" cy="650.2" r="2.5"/><circle cx="1089.8" cy="650.2" r="2.5"/><circle cx="1094.0" cy="655.5" r="2.5"/><circle cx="1098.2" cy="659.5" r="2.5"/><circle cx="1102.4" cy="662.7" r="2.5"/><circle cx="1106.6" cy="663.0" r="2.5"/><circle cx="1110.8" cy="664.1" r="2.5"/><circle cx="1115.0" cy="665.2" r="2.5"/><circle cx="1119.2" cy="663.8" r="2.5"/><circle cx="1123.3" cy="661.6" r="2.5"/><circle cx="1127.5" cy="659.1" r="2.5"/><circle cx="1131.7" cy="658.4" r="2.5"/><circle cx="1135.9" cy="659.1" r="2.5"/><circle cx="1140.1" cy="659.1" r="2.5"/><circle cx="1144.3" cy="658.9" r="2.5"/><circle cx="1148.5" cy="658.4" r="2.5"/><circle cx="1152.6" cy="657.8" r="2.5"/><circle cx="1156.8" cy="656.8" r="2.5"/><circle cx="1161.0" cy="655.5" r="2.5"/><circle cx="1165.2" cy="654.0" r="2.5"/><circle cx="1169.4" cy="653.0" r="2.5"/><circle cx="1173.6" cy="651.9" r="2.5"/><circle cx="1177.8" cy="650.3" r="2.5"/><circle cx="1181.9" cy="648.1" r="2.5"/><circle cx="1186.1" cy="646.1" r="2.5"/><circle cx="1190.3" cy="644.8" r="2.5"/><circle cx="1194.5" cy="644.3" r="2.5"/><circle cx="1198.7" cy="643.8" r="2.5"/><circle cx="1202.9" cy="643.5" r="2.5"/><circle cx="1207.1" cy="643.6" r="2.5"/><circle cx="1211.2" cy="644.1" r="2.5"/><circle cx="1215.4" cy="644.7" r="2.5"/><circle cx="1219.6" cy="644.4" r="2.5"/><circle cx="1223.8" cy="643.3" r="2.5"/><circle cx="1228.0" cy="646.5" r="2.5"/><circle cx="1232.2" cy="647.2" r="2.5"/><circle cx="1236.4" cy="649.2" r="2.5"/><circle cx="1240.5" cy="649.8" r="2.5"/><circle cx="1244.7" cy="651.0" r="2.5"/><circle cx="1248.9" cy="649.7" r="2.5"/><circle cx="1253.1" cy="650.5" r="2.5"/><circle cx="1257.3" cy="647.9" r="2.5"/><circle cx="1261.5" cy="645.4" r="2.5"/><circle cx="1265.7" cy="642.5" r="2.5"/><circle cx="1269.8" cy="640.5" r="2.5"/><circle cx="1274.0" cy="638.0" r="2.5"/><circle cx="1278.2" cy="637.6" r="2.5"/><circle cx="1282.4" cy="635.2" r="2.5"/><circle cx="1286.6" cy="631.3" r="2.5"/><circle cx="1290.8" cy="625.9" r="2.5"/><circle cx="1295.0" cy="621.5" r="2.5"/><circle cx="1299.1" cy="618.1" r="2.5"/><circle cx="1303.3" cy="617.8" r="2.5"/><circle cx="1307.5" cy="617.2" r="2.5"/><circle cx="1311.7" cy="616.1" r="2.5"/><circle cx="1315.9" cy="616.1" r="2.5"/><circle cx="1320.1" cy="623.4" r="2.5"/><circle cx="1324.3" cy="626.6" r="2.5"/><circle cx="1328.4" cy="630.8" r="2.5"/><circle cx="1332.6" cy="635.6" r="2.5"/><circle cx="1336.8" cy="638.6" r="2.5"/><circle cx="1341.0" cy="643.2" r="2.5"/><circle cx="1345.2" cy="646.8" r="2.5"/><circle cx="1349.4" cy="642.9" r="2.5"/><circle cx="1353.6" cy="642.7" r="2.5"/><circle cx="1357.7" cy="638.3" r="2.5"/><circle cx="1361.9" cy="633.1" r="2.5"/><circle cx="1366.1" cy="632.7" r="2.5"/><circle cx="1370.3" cy="632.9" r="2.5"/><circle cx="1374.5" cy="633.5" r="2.5"/><circle cx="1378.7" cy="629.7" r="2.5"/><circle cx="1382.9" cy="631.8" r="2.5"/><circle cx="1387.0" cy="632.7" r="2.5"/><circle cx="1391.2" cy="630.5" r="2.5"/><circle cx="1395.4" cy="631.3" r="2.5"/><circle cx="1399.6" cy="631.8" r="2.5"/></g>
<line x1="902.6" x2="917.6" y1="750.2" y2="750.2" stroke="#fff" stroke-width="1.6"/><circle cx="910.1" cy="750.2" r="2.4" fill="#dcebfb"/>
<text x="919.2" y="753.4" font-size="9.4" font-weight="bold" fill="#fff" textLength="133.0" lengthAdjust="spacingAndGlyphs">Daily flights (7-day moving avg)</text>
<line x1="1130.4" x2="1145.4" y1="750.2" y2="750.2" stroke="#ff1010" stroke-width="1.6"/><circle cx="1137.9" cy="750.2" r="2.4" fill="#ff1010"/>
<text x="1147.4" y="753.4" font-size="9.4" font-weight="bold" fill="#fff" textLength="159.8" lengthAdjust="spacingAndGlyphs">Variation vs. 2019 (7-day moving avg)</text>
</g>
<rect x="1384.8" y="415.1" width="37.1" height="36.6" fill="#fff"/>
<g transform="translate(1389.2 415.6) scale(28.3 29.8)">
<clipPath id="ec3a"><polygon points="-0.3,-0.2 1.3,-0.2 1.3,0.0608 -0.3,0.7613"/></clipPath>
<clipPath id="ec3b"><rect x="-0.3" y="0.716" width="1.6" height="0.5"/></clipPath>
<path clip-path="url(#ec3a)" fill="#33496b" fill-rule="evenodd" d="M0,0.5 A0.5,0.5 0 1 1 1,0.5 A0.5,0.5 0 1 1 0,0.5 Z M0.262,0.487 A0.238,0.25 0 1 0 0.738,0.487 A0.238,0.25 0 1 0 0.262,0.487 Z"/>
<path clip-path="url(#ec3b)" fill="#33496b" fill-rule="evenodd" d="M-0.01,0.5 A0.53,0.5 0 1 1 1.05,0.5 A0.53,0.5 0 1 1 -0.01,0.5 Z M0.262,0.487 A0.238,0.25 0 1 0 0.738,0.487 A0.238,0.25 0 1 0 0.262,0.487 Z"/>
<polygon fill="#3c8ec2" points="-0.112,0.692 1.03,0.192 0.526,0.702"/>
</g>
<text x="1385.3" y="450.7" font-size="4.8" font-weight="bold" fill="#3a4860" textLength="36.4" lengthAdjust="spacingAndGlyphs">EUROCONTROL</text>
</g>
</svg>
</body></html>
